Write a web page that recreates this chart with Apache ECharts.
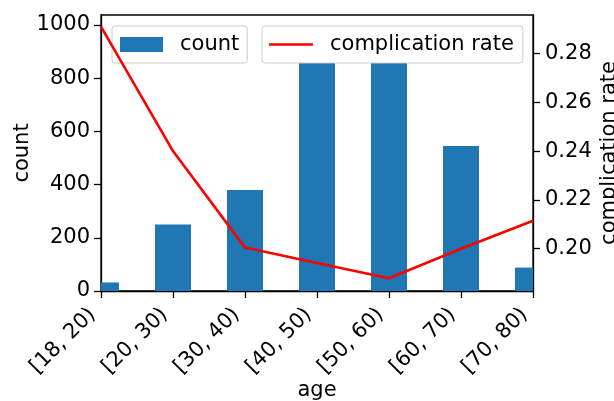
<!DOCTYPE html>
<html>
<head>
<meta charset="utf-8">
<script src="https://cdn.jsdelivr.net/npm/echarts@6/dist/echarts.min.js"></script>
<style>
  html, body { margin: 0; padding: 0; background: #fff; }
  #chart { width: 614px; height: 401px; }
</style>
</head>
<body>
<div id="chart"></div>
<script>
// Age groups and their counts / complication rates
const categories = ['[18, 20)', '[20, 30)', '[30, 40)', '[40, 50)', '[50, 60)', '[60, 70)', '[70, 80)'];
const counts = [32, 250, 380, 960, 988, 545, 88];
const rates = [0.291, 0.240, 0.2004, 0.1941, 0.1878, 0.1999, 0.2114];
const countTicks = [0, 200, 400, 600, 800, 1000];
const rateTicks = [0.20, 0.22, 0.24, 0.26, 0.28];

const FONT = 'DejaVu Sans';
const FS = 21;
const chart = echarts.init(document.getElementById('chart'), null, { renderer: 'canvas' });

const axisLineStyle = { color: '#000', width: 1.3 };

// Bars drawn half a band wide, clipped to the plot area at both ends
function renderBar(params, api) {
  const idx = api.value(0);
  const val = api.value(1);
  const top = api.coord([idx, val]);
  const base = api.coord([idx, 0]);
  const w = api.size([1, 0])[0] * 0.5;
  const cs = params.coordSys;
  const shape = echarts.graphic.clipRectByRect(
    { x: top[0] - w / 2, y: top[1], width: w, height: base[1] - top[1] },
    { x: cs.x, y: cs.y, width: cs.width, height: cs.height }
  );
  return shape && { type: 'rect', shape: shape, style: api.style() };
}

chart.setOption({
  animation: false,
  textStyle: { fontFamily: FONT, color: '#000' },
  grid: {
    left: 101, right: 81, top: 15, bottom: 110,
    containLabel: false,
    outerBoundsMode: 'none',
    show: true, borderColor: '#000', borderWidth: 1.3, backgroundColor: 'transparent'
  },
  legend: [
    {
      data: [{ name: 'count', icon: 'rect' }],
      left: 112, top: 26,
      z: 4,
      backgroundColor: '#fff',
      borderColor: '#cccccc', borderWidth: 1, borderRadius: 3,
      padding: [8, 8, 8, 8],
      itemWidth: 43, itemHeight: 15,
      textStyle: { fontFamily: FONT, fontSize: FS, color: '#000', padding: [0, 0, 0, 12] }
    },
    {
      data: [{ name: 'complication rate', icon: 'rect' }],
      left: 262, top: 26,
      z: 6,
      backgroundColor: '#fff',
      borderColor: '#cccccc', borderWidth: 1, borderRadius: 3,
      padding: [8, 9, 8, 7],
      itemWidth: 44, itemHeight: 2.6,
      itemStyle: { color: '#ff0000' },
      textStyle: { fontFamily: FONT, fontSize: FS, color: '#000', padding: [0, 0, 0, 12] }
    }
  ],
  xAxis: {
    type: 'category',
    data: categories,
    boundaryGap: false,
    name: 'age',
    nameLocation: 'middle',
    nameGap: 89,
    nameMoveOverlap: false,
    nameTextStyle: { fontFamily: FONT, fontSize: FS, color: '#000' },
    axisLine: { lineStyle: axisLineStyle },
    axisTick: { show: true, length: 7, lineStyle: axisLineStyle, alignWithLabel: true },
    axisLabel: {
      rotate: 45, fontFamily: FONT, fontSize: FS, color: '#000',
      margin: 12, interval: 0, padding: [0, 12, 0, 0]
    },
    splitLine: { show: false }
  },
  yAxis: [
    {
      type: 'value',
      min: 0, max: 1037.6,
      position: 'left',
      name: 'count',
      nameLocation: 'middle',
      nameRotate: 90,
      nameGap: 68,
      nameMoveOverlap: false,
      nameTextStyle: { fontFamily: FONT, fontSize: FS, color: '#000' },
      axisLine: { show: true, lineStyle: axisLineStyle },
      axisTick: { show: true, length: 7, lineStyle: axisLineStyle, customValues: countTicks },
      axisLabel: {
        fontFamily: FONT, fontSize: FS, color: '#000', margin: 11,
        showMinLabel: true, showMaxLabel: true,
        customValues: countTicks,
        formatter: v => String(v)
      },
      splitLine: { show: false }
    },
    {
      type: 'value',
      min: 0.1826, max: 0.2958,
      position: 'right',
      name: 'complication rate',
      nameLocation: 'middle',
      nameRotate: 90,
      nameGap: 66,
      nameMoveOverlap: false,
      nameTextStyle: { fontFamily: FONT, fontSize: FS, color: '#000' },
      axisLine: { show: true, lineStyle: axisLineStyle },
      axisTick: { show: true, length: 7, lineStyle: axisLineStyle, customValues: rateTicks },
      axisLabel: {
        fontFamily: FONT, fontSize: FS, color: '#000', margin: 12,
        customValues: rateTicks,
        formatter: v => v.toFixed(2)
      },
      splitLine: { show: false }
    }
  ],
  series: [
    {
      name: 'count',
      type: 'custom',
      yAxisIndex: 0,
      data: counts.map((c, i) => [i, c]),
      renderItem: renderBar,
      encode: { x: 0, y: 1 },
      z: 2,
      itemStyle: { color: '#1f77b4' }
    },
    {
      name: 'complication rate',
      type: 'line',
      yAxisIndex: 1,
      data: rates,
      symbol: 'none',
      clip: true,
      z: 5,
      lineStyle: { color: '#ff0000', width: 2.6 },
      itemStyle: { color: '#ff0000' }
    }
  ]
});
</script>
</body>
</html>
